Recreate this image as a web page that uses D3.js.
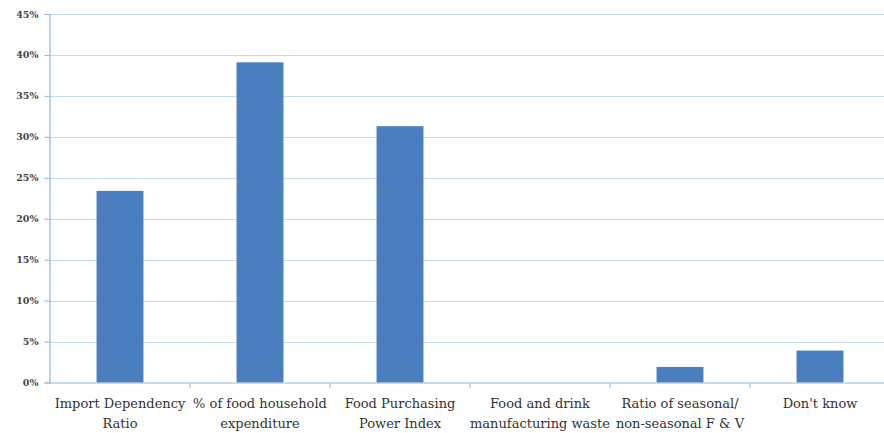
<!DOCTYPE html>
<html><head><meta charset="utf-8">
<script src="https://cdn.jsdelivr.net/npm/d3@7"></script>
<style>body{margin:0;background:#fff}svg{display:block}
svg text{font-family:"DejaVu Serif",serif}</style>
</head><body>
<svg id="c" width="884" height="433"></svg>
<script>
const categories = [
  ["Import Dependency", "Ratio"],
  ["% of food household", "expenditure"],
  ["Food Purchasing", "Power Index"],
  ["Food and drink", "manufacturing waste"],
  ["Ratio of seasonal/", "non-seasonal F & V"],
  ["Don't know"]
];
const values = [0.234, 0.391, 0.313, 0, 0.019, 0.039];
const yTicks = [0, 0.05, 0.10, 0.15, 0.20, 0.25, 0.30, 0.35, 0.40, 0.45];

(function () {
const svg = d3.select("#c");
const mL = 50, mR = 890, mT = 14, mB = 382.5;
const x = d3.scaleBand().domain(d3.range(categories.length)).range([mL, mR]).paddingInner(0.665).paddingOuter(0.3325);
const x0 = d3.scaleBand().domain(d3.range(categories.length)).range([mL, mR]);
const y = d3.scaleLinear().domain([0, 0.45]).range([mB, mT]);

svg.append("g").selectAll("line").data(yTicks.slice(1)).join("line")
  .attr("x1", mL).attr("x2", mR)
  .attr("y1", d => Math.round(y(d)) + 0.5).attr("y2", d => Math.round(y(d)) + 0.5)
  .attr("stroke", "#c5d9ee").attr("stroke-width", 1.2);

svg.append("g").selectAll("rect").data(values).join("rect")
  .attr("x", (d, i) => x(i)).attr("width", x.bandwidth())
  .attr("y", d => y(d)).attr("height", d => mB - y(d))
  .attr("fill", "#4a7ebf");

const yAxis = d3.axisLeft(y).tickValues(yTicks).tickFormat(d3.format(".0%")).tickSize(5).tickPadding(6);
const gy = svg.append("g").attr("transform", `translate(${mL - 0.5},0)`).call(yAxis);
gy.attr("font-family", null);
gy.select(".domain").attr("stroke", "#8fb5db").attr("stroke-width", 1.2);
gy.selectAll(".tick line").attr("stroke", "#8fb5db");
gy.selectAll("text").attr("font-size", 9.5).attr("font-weight", "bold").attr("fill", "#444");

const gx = svg.append("g").attr("transform", `translate(0,${mB + 0.5})`);
gx.append("line").attr("x1", mL - 0.5).attr("x2", mR).attr("stroke", "#8fb5db").attr("stroke-width", 1.2);
gx.selectAll(".tk").data(d3.range(1, categories.length)).join("line").attr("class", "tk")
  .attr("x1", d => x0(d)).attr("x2", d => x0(d)).attr("y1", 0).attr("y2", 5)
  .attr("stroke", "#8fb5db");
const lbl = gx.selectAll("text").data(categories).join("text")
  .attr("transform", (d, i) => `translate(${x0(i) + x0.bandwidth() / 2},0)`)
  .attr("text-anchor", "middle")
  .attr("font-size", 13).attr("fill", "#333");
lbl.selectAll("tspan").data(d => d).join("tspan")
  .attr("x", 0).attr("y", (d, i) => 25 + i * 20).text(d => d);
})();
</script>
</body></html>
